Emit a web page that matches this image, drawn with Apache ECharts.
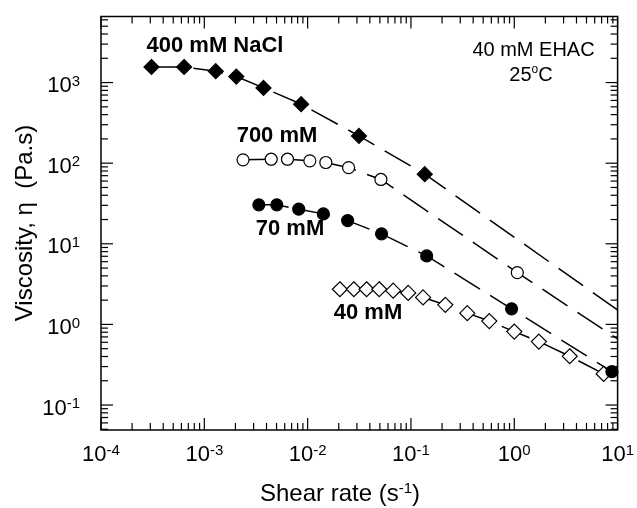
<!DOCTYPE html>
<html>
<head>
<meta charset="utf-8">
<script src="https://cdn.jsdelivr.net/npm/echarts@6/dist/echarts.min.js"></script>
<style>
  html, body { margin: 0; padding: 0; background: #fff; }
  #chart { width: 637px; height: 508px; }
</style>
</head>
<body>
<div id="chart"></div>
<script>
// Shear rate (1/s) and viscosity (Pa.s) for each NaCl concentration
const rate400 = [3.08e-4, 6.37e-4, 1.29e-3, 2.04e-3, 3.74e-3, 8.65e-3, 0.0314, 0.136];
const eta400  = [1560, 1560, 1385, 1187, 859, 540, 218, 73.0];
const rate700 = [2.37e-3, 4.44e-3, 6.38e-3, 0.0105, 0.0150, 0.0249, 0.0512, 1.07];
const eta700  = [110, 112, 112, 107, 102, 88, 62.8, 4.39];
const rate70  = [3.37e-3, 5.03e-3, 8.20e-3, 0.0142, 0.0244, 0.0519, 0.142, 0.942, 8.81];
const eta70   = [30.4, 30.4, 26.9, 23.5, 19.4, 13.3, 7.08, 1.56, 0.259];
const rate40  = [0.0205, 0.0280, 0.0372, 0.0493, 0.0673, 0.0940, 0.131, 0.215, 0.351, 0.573, 1.00, 1.73, 3.44, 7.33];
const eta40   = [2.73, 2.73, 2.73, 2.73, 2.62, 2.46, 2.16, 1.75, 1.38, 1.10, 0.814, 0.612, 0.403, 0.243];

// Power-law lines carried on to the highest shear rate
const fitEnd400 = [10, 1.51];
const fitEnd700 = [10, 0.66];

// Axis ranges
const xRange = [1e-4, 10];
const yRange = [0.049, 6600];

const FONT = '"Liberation Sans", Arial, Helvetica, sans-serif';

function pairs(xs, ys) { return xs.map((x, i) => [x, ys[i]]); }

// Decade ticks (1 x 10^n) and in-between ticks (2..9 x 10^n) for a log axis
function decadeTicks(lo, hi) {
  const major = [], minor = [];
  for (let e = Math.floor(Math.log10(lo)); e <= Math.ceil(Math.log10(hi)); e++) {
    for (let k = 1; k <= 9; k++) {
      const v = k * Math.pow(10, e);
      if (v < lo * 0.9999 || v > hi * 1.0001) continue;
      (k === 1 ? major : minor).push(v);
    }
  }
  return { major, minor };
}

const xt = decadeTicks(xRange[0], xRange[1]);
const yt = decadeTicks(yRange[0], yRange[1]);
const tickData = [];
// sides: 0 bottom, 1 top, 2 left, 3 right
xt.major.forEach(v => { tickData.push([v, yRange[0], 0, 1], [v, yRange[1], 1, 1]); });
xt.minor.forEach(v => { tickData.push([v, yRange[0], 0, 0], [v, yRange[1], 1, 0]); });
yt.major.forEach(v => { tickData.push([xRange[0], v, 2, 1], [xRange[1], v, 3, 1]); });
yt.minor.forEach(v => { tickData.push([xRange[0], v, 2, 0], [xRange[1], v, 3, 0]); });

function powerLabel(v) {
  const e = Math.log10(v);
  if (Math.abs(e - Math.round(e)) > 0.01) return '';
  return '{b|10}{s|' + Math.round(e) + '}';
}
const labelRich = {
  b: { fontSize: 22, lineHeight: 24, fontFamily: FONT, color: '#000' },
  s: { fontSize: 15, lineHeight: 12, verticalAlign: 'top', fontFamily: FONT, color: '#000' }
};

const dash = [30, 12];
function lineSeries(name, pts, end, symbol, size, filled) {
  const data = pts.slice();
  if (end) data.push({ value: end, symbol: 'none' });
  return {
    name, type: 'line', data,
    symbol, symbolSize: size, showAllSymbol: true,
    lineStyle: { color: '#000', width: 1.5, type: dash },
    itemStyle: { color: filled ? '#000' : '#fff', borderColor: '#000', borderWidth: 1.2 },
    emphasis: { disabled: true },
    z: 3
  };
}

const chart = echarts.init(document.getElementById('chart'), null, { renderer: 'canvas' });
chart.setOption({
  animation: false,
  backgroundColor: '#fff',
  grid: { left: 101, right: 18, top: 16.5, bottom: 78, show: true, borderColor: '#000', borderWidth: 1.5, backgroundColor: 'transparent' },
  xAxis: {
    type: 'log', logBase: 10, min: xRange[0], max: xRange[1],
    axisLine: { show: false }, axisTick: { show: false }, splitLine: { show: false },
    axisLabel: { margin: 13, formatter: powerLabel, rich: labelRich, color: '#000' }
  },
  yAxis: {
    type: 'log', logBase: 10, min: yRange[0], max: yRange[1],
    axisLine: { show: false }, axisTick: { show: false }, splitLine: { show: false },
    axisLabel: { margin: 21, showMinLabel: false, showMaxLabel: false, formatter: powerLabel, rich: labelRich, color: '#000', padding: [7, 0, 0, 0] }
  },
  series: [
    {
      type: 'custom', silent: true, z: 2,
      data: tickData,
      encode: { x: 0, y: 1 },
      renderItem(params, api) {
        const p = api.coord([api.value(0), api.value(1)]);
        const side = api.value(2);
        const len = api.value(3) ? 12 : 7;
        let x2 = p[0], y2 = p[1];
        if (side === 0) y2 -= len; else if (side === 1) y2 += len;
        else if (side === 2) x2 += len; else x2 -= len;
        return { type: 'line', shape: { x1: p[0], y1: p[1], x2, y2 }, style: { stroke: '#000', lineWidth: 1.2 } };
      }
    },
    lineSeries('40 mM', pairs(rate40, eta40), null, 'diamond', 15, false),
    lineSeries('70 mM', pairs(rate70, eta70), null, 'circle', 12, true),
    lineSeries('700 mM', pairs(rate700, eta700), fitEnd700, 'circle', 12, false),
    lineSeries('400 mM NaCl', pairs(rate400, eta400), fitEnd400, 'diamond', 15, true)
  ],
  graphic: [
    { type: 'text', x: 215, y: 45.5, style: { text: '400 mM NaCl', font: 'bold 22px ' + FONT, fill: '#000', align: 'center', verticalAlign: 'middle' } },
    { type: 'text', x: 277, y: 135.5, style: { text: '700 mM', font: 'bold 22px ' + FONT, fill: '#000', align: 'center', verticalAlign: 'middle' } },
    { type: 'text', x: 290, y: 228.5, style: { text: '70 mM', font: 'bold 22px ' + FONT, fill: '#000', align: 'center', verticalAlign: 'middle' } },
    { type: 'text', x: 368, y: 312.5, style: { text: '40 mM', font: 'bold 22px ' + FONT, fill: '#000', align: 'center', verticalAlign: 'middle' } },
    { type: 'text', x: 533.5, y: 50, style: { text: '40 mM EHAC', font: '20px ' + FONT, fill: '#000', align: 'center', verticalAlign: 'middle' } },
    { type: 'text', x: 531, y: 75, style: {
        text: '{a|25}{o|o}{a|C}', align: 'center', verticalAlign: 'middle',
        rich: {
          a: { fontSize: 20, lineHeight: 22, fontFamily: FONT, fill: '#000' },
          o: { fontSize: 12, lineHeight: 12, verticalAlign: 'top', fontFamily: FONT, fill: '#000' }
        } } },
    { type: 'text', x: 340, y: 494, style: {
        text: '{a|Shear rate (s}{s|-1}{a|)}', align: 'center', verticalAlign: 'middle',
        rich: {
          a: { fontSize: 24, lineHeight: 26, fontFamily: FONT, fill: '#000' },
          s: { fontSize: 15, lineHeight: 14, verticalAlign: 'top', fontFamily: FONT, fill: '#000' }
        } } },
    { type: 'text', x: 25, y: 223, rotation: Math.PI / 2, style: {
        text: 'Viscosity, \u03b7  (Pa.s)', font: '24px ' + FONT, fill: '#000', align: 'center', verticalAlign: 'middle' } }
  ]
});
</script>
</body>
</html>
